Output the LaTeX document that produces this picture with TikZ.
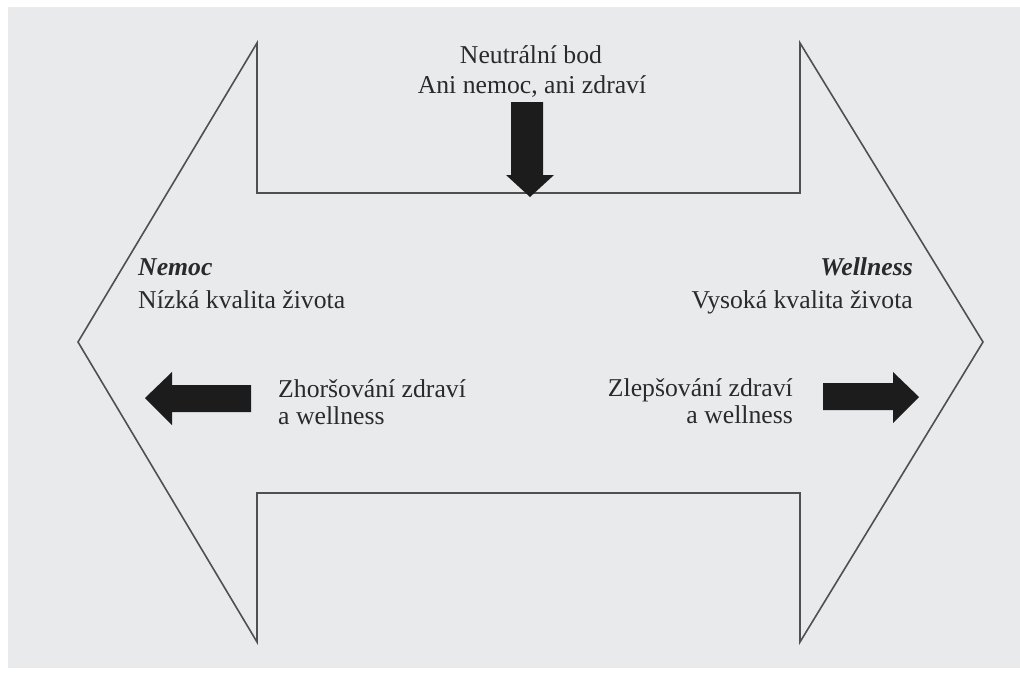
\documentclass[tikz,border=0pt]{standalone}
\usepackage{fontspec}
\setmainfont{Liberation Serif}
\definecolor{paper}{RGB}{233,234,236}
\definecolor{ink}{RGB}{42,42,42}
\definecolor{outline}{RGB}{80,80,84}
\definecolor{arrowfill}{RGB}{28,28,28}
\begin{document}
\begin{tikzpicture}[x=1pt,y=-1pt,
  lbl/.style={inner sep=0pt,text=ink,font=\fontsize{25.7}{28}\selectfont},
  shapeline/.style={draw=outline,line width=1.6pt,line join=miter},
  fatarrow/.style={fill=arrowfill,draw=none}]
\useasboundingbox (0,0) rectangle (1020,675);
\fill[white] (0,0) rectangle (1020,675);
\fill[paper] (8,7) rectangle (1020,668);
% outline vertices
\coordinate (tl) at (257,43);
\coordinate (tli) at (257,193);
\coordinate (tri) at (800,193);
\coordinate (tr) at (800,43);
\coordinate (rt) at (983,342);
\coordinate (br) at (800,642);
\coordinate (bri) at (800,493);
\coordinate (bli) at (257,493);
\coordinate (bl) at (257,642);
\coordinate (lt) at (78,342);
\draw[shapeline] (tl) -- (tli) -- (tri) -- (tr) -- (rt) -- (br) -- (bri) -- (bli) -- (bl) -- (lt) -- cycle;
% fat arrows
\fill[fatarrow] (511,102) -- (543,102) -- (543,175) -- (554,175) -- (530,197) -- (506,175) -- (511,175) -- cycle;
\fill[fatarrow] (251,385) -- (172,385) -- (172,372) -- (145,398) -- (172,425) -- (172,412) -- (251,412) -- cycle;
\fill[fatarrow] (823,383) -- (893,383) -- (893,372) -- (919,397) -- (893,423) -- (893,410) -- (823,410) -- cycle;
% texts
\node[lbl,anchor=base] (n1) at (531,63) {Neutrální bod};
\node[lbl,anchor=base] (n2) at (532,93) {Ani nemoc, ani zdraví};
\node[lbl,anchor=base west] (nem) at (138,275) {\textbf{\textit{Nemoc}}};
\node[lbl,anchor=base west] (nemq) at (138,308) {Nízká kvalita života};
\node[lbl,anchor=base east] (wel) at (913,275) {\textbf{\textit{Wellness}}};
\node[lbl,anchor=base east] (welq) at (913,308) {Vysoká kvalita života};
\node[lbl,anchor=base west] (zh1) at (278,397) {Zhoršování zdraví};
\node[lbl,anchor=base west] (zh2) at (278,424) {a wellness};
\node[lbl,anchor=base east] (zl1) at (793,396) {Zlepšování zdraví};
\node[lbl,anchor=base east] (zl2) at (793,423) {a wellness};
\end{tikzpicture}
\end{document}
